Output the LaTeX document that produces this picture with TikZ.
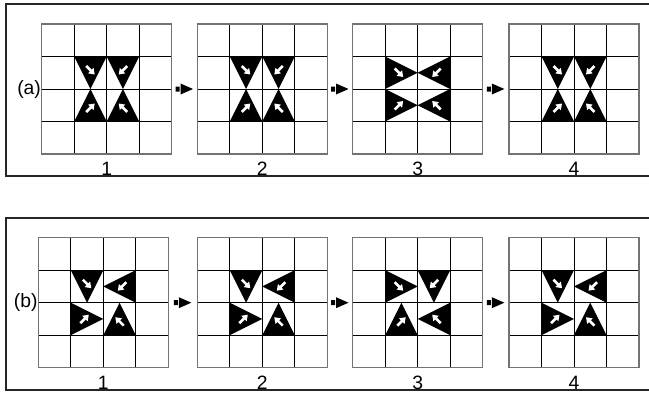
\documentclass[tikz,border=0pt]{standalone}
\usepackage{fontspec}
\setmainfont{Liberation Sans}
\usetikzlibrary{calc}

% one black triangle in a cell with its white arrow
% #1,#2 cell centre, #3 turn of the triangle, #4 direction of the arrow
\newcommand{\tri}[4]{%
  \fill[black, shift={(#1,#2)}, rotate=#3] (-16.25,-16.25) -- (16.25,-16.25) -- (0,16.25) -- cycle;
  \fill[white, shift={(#1,#2)}, rotate=#3, shift={(0,-2.5)}, rotate={(#4)-(#3)}]
    (-6,-1.3) -- (0.5,-1.3) -- (0.5,-3.9) -- (6,0) -- (0.5,3.9) -- (0.5,1.3) -- (-6,1.3) -- cycle;
}

\begin{document}
\begin{tikzpicture}[x=0.75pt, y=-0.75pt,
    panel/.style={draw=black!85, line width=0.9pt},
    gridbox/.style={rectangle, draw=black!55, line width=0.8pt, minimum size=97.5pt, inner sep=0pt},
    gridline/.style={draw=black, line width=0.75pt},
    tag/.style={font=\fontsize{14.5}{16}\selectfont, inner sep=0pt}
]
\useasboundingbox (0,0) rectangle (649,393);
\clip (0,0) rectangle (649,393);

\draw[panel] (6,4) rectangle (660,176);
\draw[panel] (6,218) rectangle (660,390);

% triangles: top left, top right, bottom left, bottom right
\foreach \gx/\gy/\ta/\tb/\tc/\td in {41.7/24/0/0/180/180, 197.3/24/0/0/180/180,
    352.7/24/90/-90/90/-90, 509/24/0/0/180/180,
    38.3/237.7/0/-90/90/180, 197.3/237.7/0/-90/90/180,
    352.7/237.7/90/0/180/-90, 509/237.7/0/-90/90/180} {
  \tri{\gx+48.75}{\gy+48.75}{\ta}{-45}
  \tri{\gx+81.25}{\gy+48.75}{\tb}{-135}
  \tri{\gx+48.75}{\gy+81.25}{\tc}{45}
  \tri{\gx+81.25}{\gy+81.25}{\td}{135}
}

% grids
\foreach \p/\gx/\gy/\n/\base in {a1/41.7/24/1/175.5, a2/197.3/24/2/175.5, a3/352.7/24/3/175.5, a4/509/24/4/175.5,
    b1/38.3/237.7/1/389.5, b2/197.3/237.7/2/389.5, b3/352.7/237.7/3/389.5, b4/509/237.7/4/389.5} {
  \foreach \k in {1,2,3} {
    \draw[gridline] (\gx+\k*32.5,\gy) -- (\gx+\k*32.5,\gy+130);
    \draw[gridline] (\gx,\gy+\k*32.5) -- (\gx+130,\gy+\k*32.5);
  }
  \node[gridbox] (\p) at (\gx+65,\gy+65) {};
  \node[tag, anchor=base] (num\p) at (\gx+65,\base) {\n};
}

\node[tag, anchor=east] (taga) at (a1.west) {(a)};
\node[tag, anchor=east] (tagb) at (b1.west) {(b)};

% step arrows
\foreach \u/\v in {a1/a2, a2/a3, a3/a4, b1/b2, b2/b3, b3/b4} {
  \fill[black, shift={($(\u.east)!0.5!(\v.west)$)}]
    (-9,-2.5) rectangle (-5,2.5)
    (-4,-5.5) -- (8.5,0) -- (-4,5.5) -- cycle;
}

\end{tikzpicture}
\end{document}
